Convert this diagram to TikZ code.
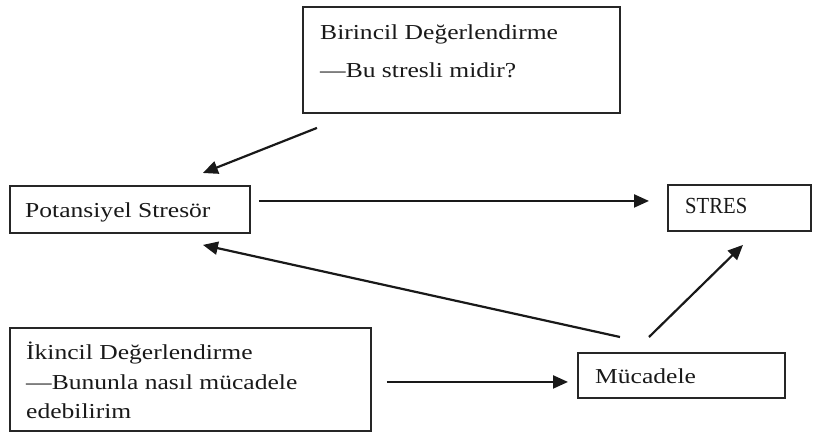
\documentclass[tikz,border=0pt]{standalone}
\usepackage{fontspec}
\setmainfont[FakeStretch=1.2]{Liberation Serif}
\newfontfamily\stresfont[FakeStretch=0.9]{Liberation Serif}
\usetikzlibrary{calc,arrows.meta}
\tikzset{
  box/.style={draw=black!85, line width=1.9pt, inner sep=0pt, anchor=north west},
  txt/.style={inner sep=0pt, anchor=base west, font=\fontsize{21.3}{26}\selectfont, text=black!90},
  arr/.style={draw=black!90, line width=2.2pt, -{Triangle[length=15pt,width=13pt]}}
}
\begin{document}
\begin{tikzpicture}[x=1pt,y=-1pt]
\useasboundingbox (0,0) rectangle (814,432);
% boxes
\node[box, minimum width=317pt, minimum height=106pt] (top) at (302,6) {};
\node[box, minimum width=240pt, minimum height=47pt] (pot) at (9,185) {};
\node[box, minimum width=143pt, minimum height=46pt] (stres) at (667,184) {};
\node[box, minimum width=361pt, minimum height=103pt] (ik) at (9,327) {};
\node[box, minimum width=207pt, minimum height=45pt] (muc) at (577,352) {};
% texts
\node[txt] (t1) at (320,39) {Birincil Değerlendirme};
\node[txt] (t2) at (320,77) {—Bu stresli midir?};
\node[txt] (t3) at (25,217) {Potansiyel Stresör};
\node[txt, font=\stresfont\fontsize{23}{27}\selectfont] (t4) at (685,213) {STRES};
\node[txt] (t5) at (26,359) {İkincil Değerlendirme};
\node[txt] (t6) at (26,389) {—Bununla nasıl mücadele};
\node[txt] (t7) at (26,418) {edebilirim};
\node[txt] (t8) at (595,383) {Mücadele};
% arrows
\draw[arr] ($(top.south west)+(15,14)$) -- ($(pot.north east)+(-48,-12)$);
\draw[arr] ($(pot.east)+(8,-8.5)$) -- ($(stres.west)+(-18,-7)$);
\draw[arr] ($(muc.north west)+(43,-15)$) -- ($(pot.south east)+(-48,11)$);
\draw[arr] ($(muc.north west)+(72,-15)$) -- ($(stres.south west)+(76,13)$);
\draw[arr] ($(ik.east)+(15,2.5)$) -- ($(muc.west)+(-9,6.5)$);
\end{tikzpicture}
\end{document}
